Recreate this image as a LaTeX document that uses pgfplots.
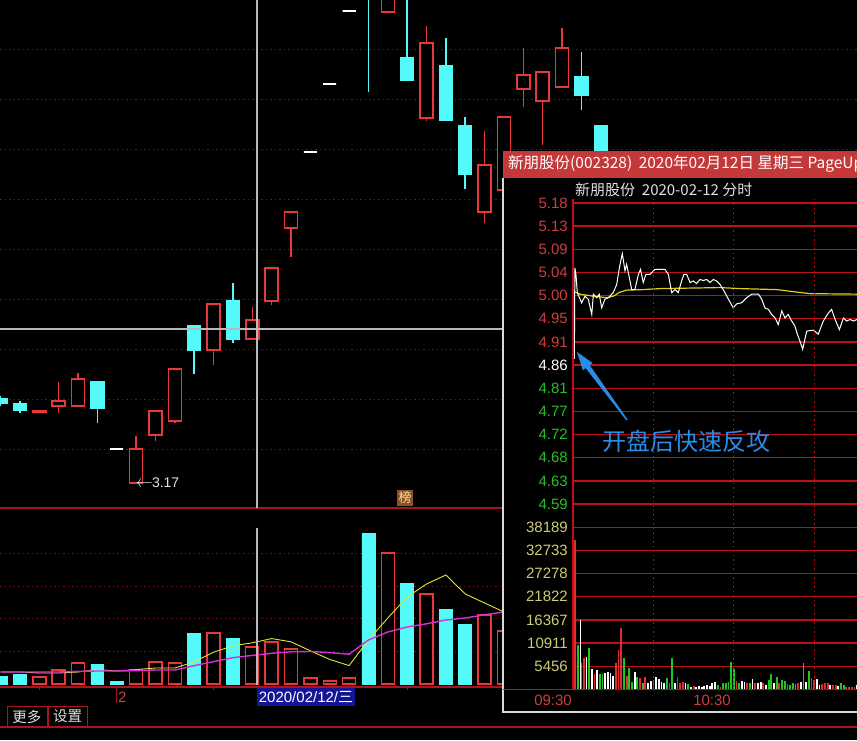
\documentclass[border=0pt]{standalone}
\usepackage{fontspec}
\setmainfont{Liberation Sans}
\newfontfamily\cjk{Noto Sans CJK SC}
\usepackage{pgfplots}
\pgfplotsset{compat=1.18}
\usepgfplotslibrary{statistics}

\definecolor{gridred}{RGB}{110,18,18}
\definecolor{axred}{RGB}{170,20,30}
\definecolor{candlered}{RGB}{232,56,60}
\definecolor{candlecyan}{RGB}{84,250,250}
\definecolor{crossgrey}{RGB}{185,185,185}
\definecolor{popred}{RGB}{190,16,20}
\definecolor{titlered}{RGB}{196,56,58}
\definecolor{lblred}{RGB}{205,62,62}
\definecolor{lblgreen}{RGB}{40,190,40}
\definecolor{lblyellow}{RGB}{205,205,115}
\definecolor{maA}{RGB}{228,228,50}
\definecolor{maB}{RGB}{215,45,215}
\definecolor{avgline}{RGB}{225,205,20}
\definecolor{annblue}{RGB}{40,140,232}
\definecolor{datebg}{RGB}{20,20,150}
\definecolor{ivred}{RGB}{225,45,45}
\definecolor{ivgreen}{RGB}{30,200,30}
\definecolor{softwhite}{RGB}{225,225,225}

\newcommand\fs[1]{\fontsize{#1}{#1}\selectfont}

\pgfplotsset{
  candleup/.style={draw=candlered, fill=black, line width=1.5pt},
  candledown/.style={draw=candlecyan, fill=candlecyan, line width=1.5pt},
  candleflat/.style={draw=white, line width=1.8pt},
  bare/.style={scale only axis, axis line style={draw=none}, tick style={draw=none},
    major tick length=0pt, xtick=\empty},
}
\tikzset{dotgrid/.style={gridred, line width=1pt, dash pattern=on 1.5pt off 3pt}}

\begin{document}
\begin{tikzpicture}[x=1pt,y=1pt]
\fill[black] (0,0) rectangle (857,740);

% ---------------- daily candlesticks ----------------
\begin{axis}[bare, at={(0pt,740pt)}, anchor=north west, width=857pt, height=508pt,
  xmin=-0.031, xmax=44.236, ymin=2.877, ymax=8.78, ytick=\empty,
  boxplot/draw direction=y, boxplot/box extend=0.67, boxplot/whisker extend=0]
\pgfplotsinvokeforeach{3.551,4.132,4.713,5.294,5.875,6.456,7.037,7.618,8.199,8.78}{
  \draw[dotgrid] (axis cs:-0.031,#1) -- (axis cs:44.236,#1);}
\addplot[candledown, boxplot prepared={draw position=0, lower whisker=4.062, lower quartile=4.097, median=4.097, upper quartile=4.144, upper whisker=4.178}] coordinates {};
\addplot[candledown, boxplot prepared={draw position=1, lower whisker=3.981, lower quartile=4.016, median=4.016, upper quartile=4.085, upper whisker=4.120}] coordinates {};
\addplot[candleup, boxplot prepared={draw position=2, lower whisker=3.981, lower quartile=3.995, median=3.995, upper quartile=4.004, upper whisker=4.016}] coordinates {};
\addplot[candleup, boxplot prepared={draw position=3, lower whisker=3.981, lower quartile=4.062, median=4.062, upper quartile=4.120, upper whisker=4.341}] coordinates {};
\addplot[candleup, boxplot prepared={draw position=4, lower whisker=4.062, lower quartile=4.062, median=4.062, upper quartile=4.376, upper whisker=4.446}] coordinates {};
\addplot[candledown, boxplot prepared={draw position=5, lower whisker=3.865, lower quartile=4.039, median=4.039, upper quartile=4.341, upper whisker=4.341}] coordinates {};
\addplot[candleflat, boxplot prepared={draw position=6, lower whisker=3.563, lower quartile=3.563, median=3.563, upper quartile=3.563, upper whisker=3.563}] coordinates {};
\addplot[candleup, boxplot prepared={draw position=7, lower whisker=3.168, lower quartile=3.168, median=3.168, upper quartile=3.563, upper whisker=3.714}] coordinates {};
\addplot[candleup, boxplot prepared={draw position=8, lower whisker=3.656, lower quartile=3.725, median=3.725, upper quartile=4.004, upper whisker=4.004}] coordinates {};
\addplot[candleup, boxplot prepared={draw position=9, lower whisker=3.865, lower quartile=3.888, median=3.888, upper quartile=4.492, upper whisker=4.492}] coordinates {};
\addplot[candledown, boxplot prepared={draw position=10, lower whisker=4.434, lower quartile=4.713, median=4.713, upper quartile=4.992, upper whisker=4.992}] coordinates {};
\addplot[candleup, boxplot prepared={draw position=11, lower whisker=4.539, lower quartile=4.713, median=4.713, upper quartile=5.248, upper whisker=5.248}] coordinates {};
\addplot[candledown, boxplot prepared={draw position=12, lower whisker=4.794, lower quartile=4.841, median=4.841, upper quartile=5.282, upper whisker=5.492}] coordinates {};
\addplot[candleup, boxplot prepared={draw position=13, lower whisker=4.841, lower quartile=4.841, median=4.841, upper quartile=5.062, upper whisker=5.213}] coordinates {};
\addplot[candleup, boxplot prepared={draw position=14, lower whisker=5.236, lower quartile=5.282, median=5.282, upper quartile=5.666, upper whisker=5.666}] coordinates {};
\addplot[candleup, boxplot prepared={draw position=15, lower whisker=5.794, lower quartile=6.131, median=6.131, upper quartile=6.317, upper whisker=6.317}] coordinates {};
\addplot[candleflat, boxplot prepared={draw position=16, lower whisker=7.014, lower quartile=7.014, median=7.014, upper quartile=7.014, upper whisker=7.014}] coordinates {};
\addplot[candleflat, boxplot prepared={draw position=17, lower whisker=7.804, lower quartile=7.804, median=7.804, upper quartile=7.804, upper whisker=7.804}] coordinates {};
\addplot[candleflat, boxplot prepared={draw position=18, lower whisker=8.652, lower quartile=8.652, median=8.652, upper quartile=8.652, upper whisker=8.652}] coordinates {};
\addplot[candledown, boxplot prepared={draw position=19, lower whisker=7.711, lower quartile=8.838, median=8.838, upper quartile=9.245, upper whisker=9.300}] coordinates {};
\addplot[candleup, boxplot prepared={draw position=20, lower whisker=8.641, lower quartile=8.641, median=8.641, upper quartile=8.873, upper whisker=8.900}] coordinates {};
\addplot[candledown, boxplot prepared={draw position=21, lower whisker=7.850, lower quartile=7.850, median=7.850, upper quartile=8.106, upper whisker=8.840}] coordinates {};
\addplot[candleup, boxplot prepared={draw position=22, lower whisker=7.374, lower quartile=7.409, median=7.409, upper quartile=8.280, upper whisker=8.478}] coordinates {};
\addplot[candledown, boxplot prepared={draw position=23, lower whisker=7.386, lower quartile=7.386, median=7.386, upper quartile=8.013, upper whisker=8.338}] coordinates {};
\addplot[candledown, boxplot prepared={draw position=24, lower whisker=6.584, lower quartile=6.758, median=6.758, upper quartile=7.316, upper whisker=7.420}] coordinates {};
\addplot[candleup, boxplot prepared={draw position=25, lower whisker=6.189, lower quartile=6.317, median=6.317, upper quartile=6.863, upper whisker=7.258}] coordinates {};
\addplot[candleup, boxplot prepared={draw position=26, lower whisker=6.500, lower quartile=6.572, median=6.572, upper quartile=7.420, upper whisker=7.420}] coordinates {};
\addplot[candleup, boxplot prepared={draw position=27, lower whisker=7.537, lower quartile=7.746, median=7.746, upper quartile=7.909, upper whisker=8.222}] coordinates {};
\addplot[candleup, boxplot prepared={draw position=28, lower whisker=7.095, lower quartile=7.606, median=7.606, upper quartile=7.943, upper whisker=7.943}] coordinates {};
\addplot[candleup, boxplot prepared={draw position=29, lower whisker=7.757, lower quartile=7.769, median=7.769, upper quartile=8.222, upper whisker=8.455}] coordinates {};
\addplot[candledown, boxplot prepared={draw position=30, lower whisker=7.502, lower quartile=7.676, median=7.676, upper quartile=7.885, upper whisker=8.176}] coordinates {};
\addplot[candledown, boxplot prepared={draw position=31, lower whisker=6.700, lower quartile=6.805, median=6.805, upper quartile=7.316, upper whisker=7.316}] coordinates {};
% low marker
\node[anchor=west, inner sep=0pt, text=softwhite, font=\fs{14}] at (axis cs:6.97,3.168)
  {{\fs{16}$\leftarrow$}\kern-1pt 3.17};
\end{axis}

% ---------------- daily volume ----------------
\begin{axis}[bare, at={(0pt,232pt)}, anchor=north west, width=857pt, height=179pt,
  xmin=-0.031, xmax=44.236, ymin=-9, ymax=528, ytick=\empty]
\pgfplotsinvokeforeach{99,198,294,393}{
  \draw[dotgrid] (axis cs:-0.031,#1) -- (axis cs:44.236,#1);}
\addplot[ybar, bar width=0.67, bar shift=0pt, draw=candlered, fill=black, line width=1.4pt]
  coordinates {(2,21) (3,42) (4,63) (7,42) (8,66) (9,63) (11,153) (13,111) (14,126) (15,105)
  (16,18) (17,9) (18,18) (20,393) (22,270) (25,207) (26,159)};
\addplot[ybar, bar width=0.67, bar shift=0pt, draw=candlecyan, fill=candlecyan, line width=0.8pt]
  coordinates {(0,24) (1,30) (5,60) (6,9) (10,153) (12,138) (19,453) (21,303) (23,225) (24,180)};
\addplot[maA, line width=0.9pt] coordinates {(0,36) (1,36) (2,33) (3,33) (4,36) (5,43.2) (6,39)
  (7,43.2) (8,48) (9,48) (10,66.6) (11,95.4) (12,114.6) (13,123.6) (14,136.2) (15,126.6)
  (16,99.6) (17,73.8) (18,55.2) (19,132) (20,198) (21,261) (22,300) (23,327) (24,270)
  (25,243) (26,216)};
\addplot[maB, line width=1.4pt] coordinates {(0,36) (1,36) (2,36) (3,36) (4,38) (5,39) (6,39)
  (7,40) (8,42) (9,42) (10,54.9) (11,67.2) (12,78.9) (13,85.8) (14,92.1) (15,96.6) (16,97.5)
  (17,94.2) (18,89.4) (19,132) (20,156) (21,171) (22,180.6) (23,192) (24,198) (25,207.6)
  (26,216)};
\end{axis}

% panel frames and crosshair
\draw[axred, line width=1.2pt] (0,232) -- (857,232);
\draw[axred, line width=1.2pt] (0,53) -- (857,53);
\draw[axred, line width=1.2pt] (0,13) -- (857,13);
\draw[crossgrey, line width=1.2pt] (257,740) -- (257,232);
\draw[crossgrey, line width=1.2pt] (257,212) -- (257,55);
\draw[crossgrey, line width=1.2pt] (0,411) -- (503,411);
\node[fill={rgb,255:red,140;green,84;blue,36}, text={rgb,255:red,250;green,218;blue,165},
  inner sep=1pt, minimum size=16pt, font=\cjk\fs{13}] at (405,242) {榜};

% date strip and buttons
\foreach \tx in {39.3,213,407} \draw[axred, line width=1pt] (\tx,53) -- (\tx,50);
\draw[axred, line width=1pt] (116.8,53) -- (116.8,37);
\node[anchor=west, inner sep=0pt, text=lblred, font=\fs{15}] at (118,43) {2};
\fill[datebg] (257,52) rectangle (355,34);
\node[text=white, inner sep=0pt, font=\fs{15}] at (306,43) {2020/02/12/{\cjk 三}};
\draw[axred, line width=1pt] (7,34) rectangle (47,13);
\draw[axred, line width=1pt] (48,34) rectangle (87,13);
\node[text=softwhite, inner sep=0pt, font=\cjk\fs{14.5}] at (27,23.5) {更多};
\node[text=softwhite, inner sep=0pt, font=\cjk\fs{14.5}] at (67.5,23.5) {设置};

% ---------------- intraday window ----------------
\fill[black] (503,589) rectangle (857,28);
\fill[titlered] (503,589) rectangle (857,562);
\node[overlay, anchor=west, inner sep=0pt, text=white, font=\cjk\fs{15.5}] at (508,576)
  {新朋股份(002328)\hspace{3pt} 2020年02月12日 星期三 PageUp};
\node[anchor=west, inner sep=0pt, text=softwhite, font=\cjk\fs{15}] at (575,550)
  {新朋股份\ \ 2020-02-12 分时};
\draw[white!85!black, line width=1.2pt] (503,562) -- (503,28) -- (857,28);

\begin{axis}[bare, at={(573pt,537pt)}, anchor=north west, width=284pt, height=301pt,
  xmin=0, xmax=105.97, ymin=4.5857, ymax=5.18,
  ytick={4.5857,4.6314,4.6771,4.7229,4.7686,4.8143,4.86,4.9057,4.9514,4.9971,5.0429,5.0886,5.1343,5.18},
  yticklabels={\textcolor{lblgreen}{4.59},\textcolor{lblgreen}{4.63},\textcolor{lblgreen}{4.68},
    \textcolor{lblgreen}{4.72},\textcolor{lblgreen}{4.77},\textcolor{lblgreen}{4.81},
    \textcolor{white}{4.86},\textcolor{lblred}{4.91},\textcolor{lblred}{4.95},
    \textcolor{lblred}{5.00},\textcolor{lblred}{5.04},\textcolor{lblred}{5.09},
    \textcolor{lblred}{5.13},\textcolor{lblred}{5.18}},
  yticklabel style={anchor=east, inner sep=0pt, xshift=-5pt, font=\fs{15}},
  ymajorgrids, grid style={popred, line width=1.3pt}]
\addplot[avgline, line width=1.2pt] coordinates {(0,5.006) (2.6,5.000) (7.6,4.996) (12.6,4.993)
  (15,4.996) (17.5,5.004) (20,5.008) (26.2,5.009) (32.5,5.011) (54.9,5.013) (62.3,5.011)
  (76,5.009) (82.2,5.005) (88.4,5.001) (106,5.000) (108,5.000)};
\addplot[white, line width=1pt] coordinates {(0.5,4.872) (0.7,5.052) (1.1,5.039) (1.6,5.003)
  (3.2,4.983) (4.5,4.996) (5.7,4.990) (7.0,4.960) (7.6,5.000) (8.8,4.993) (9.8,5.000)
  (10.7,4.973) (11.9,4.990) (13.2,4.993) (15.0,5.003) (16.3,5.019) (17.3,5.052) (18.4,5.080)
  (19.4,5.046) (20.0,5.059) (20.9,5.036) (21.9,5.009) (23.1,5.009) (24.4,5.039) (25.2,5.049)
  (26.2,5.023) (27.2,5.039) (28.7,5.039) (30.6,5.049) (34.3,5.049) (35.6,5.039) (36.8,5.003)
  (38.1,5.009) (39.3,5.003) (40.5,5.026) (41.4,5.039) (42.4,5.039) (43.7,5.023) (44.9,5.026)
  (46.1,5.021) (47.4,5.029) (48.6,5.027) (49.9,5.029) (51.1,5.023) (52.4,5.029) (53.6,5.026)
  (54.9,5.019) (56.7,5.003) (58.0,4.990) (59.8,4.973) (61.1,4.981) (62.9,4.983) (64.8,4.993)
  (66.7,5.000) (69.2,5.000) (70.4,4.990) (71.6,4.973) (72.9,4.970) (74.1,4.960) (75.4,4.953)
  (76.6,4.940) (77.9,4.967) (79.1,4.953) (80.3,4.960) (81.6,4.947) (82.8,4.937) (83.7,4.921)
  (84.7,4.907) (85.7,4.891) (87.2,4.927) (89.7,4.929) (91.5,4.921) (93.4,4.947) (95.3,4.963)
  (96.5,4.970) (97.8,4.950) (99.4,4.930) (100.9,4.953) (102.1,4.947) (103.4,4.950)
  (104.6,4.947) (106.0,4.950) (107.2,4.943)};
\end{axis}

\begin{axis}[bare, at={(573pt,212.7pt)}, anchor=north west, width=284pt, height=162pt,
  xmin=0, xmax=105.97, ymin=0, ymax=38189, scaled y ticks=false,
  ytick={5456,10911,16367,21822,27278,32733,38189},
  yticklabels={5456,10911,16367,21822,27278,32733,38189},
  yticklabel style={anchor=east, inner sep=0pt, xshift=-5pt, font=\fs{15}, text=lblyellow},
  ymajorgrids, grid style={popred, line width=1.3pt}]
\addplot[ycomb, ivred, line width=1.8pt] coordinates {(0.8,35100) (4,7290) (8,3600) (16,6110)
  (17,9250) (18,14350) (20,3220) (25,2590) (27,2960) (30,2190) (36,1410) (39,2960) (40,1410)
  (41,1790) (45,780) (55,620) (61,2020) (65,1550) (68,1410) (71,1410) (77,1410) (80,1250)
  (84,1410) (89,2590) (90,2190) (93,1250) (94,1410) (95,1550) (97,1010) (98,1010) (102,470)
  (103,470) (104,620) (105,470)};
\addplot[ycomb, ivgreen, line width=1.8pt] coordinates {(1.9,10420) (3,6110) (6,9640) (10,3600)
  (11,3600) (19,7290) (21,4940) (22,1790) (24,2960) (26,1550) (35,2590) (37,7290) (43,1250)
  (54,1010) (56,1550) (57,1410) (58,1790) (59,6490) (60,4700) (62,1410) (66,1410) (73,2190)
  (74,3600) (76,2960) (78,2190) (79,2020) (81,1010) (82,1410) (83,1250) (86,6260) (88,4230)
  (100,1410) (101,1010)};
\addplot[ycomb, white, line width=1.8pt] coordinates {(2.8,16290) (5,7680) (7,4700) (9,4540)
  (12,3760) (13,4000) (14,3760) (15,3220) (23,4000) (28,1410) (29,2020) (31,2960) (32,2350)
  (33,1790) (34,1550) (38,1410) (42,1550) (44,620) (46,620) (47,780) (48,620) (49,780)
  (50,1010) (51,780) (52,1410) (53,1790) (63,2020) (64,1790) (67,2350) (69,1550) (70,1790)
  (72,1010) (75,1550) (85,1790) (87,1790) (91,2350) (92,1010) (96,1010) (99,780) (106,1010)};
\end{axis}

% intraday frame, time grid and time labels
\draw[popred, line width=1.3pt] (573,541) -- (573,50.7);
\draw[popred, line width=1.3pt] (503,50.7) -- (857,50.7);
\foreach \gx in {653.4,733.8,814.2}
  \draw[popred, line width=1pt, dash pattern=on 1.5pt off 3pt] (\gx,541) -- (\gx,50.7);
\node[anchor=east, inner sep=0pt, text=lblred, font=\fs{15}] at (572,40) {09:30};
\node[anchor=east, inner sep=0pt, text=lblred, font=\fs{15}] at (731,40) {10:30};
\node[overlay, anchor=east, inner sep=0pt, text=lblred, font=\fs{15}] at (894,40) {11:30};

% annotation
\fill[annblue] (577,388) -- (592.6,377) -- (589.7,374.9) -- (627.6,320.4) -- (626.4,319.6)
  -- (585.7,371.9) -- (582.8,369.8) -- cycle;
\node[text=annblue, inner sep=0pt, font=\cjk\fs{24}] at (686,299) {开盘后快速反攻};

% page extent
\pgfresetboundingbox
\path[use as bounding box] (0,0) rectangle (857,740);
\end{tikzpicture}
\end{document}
